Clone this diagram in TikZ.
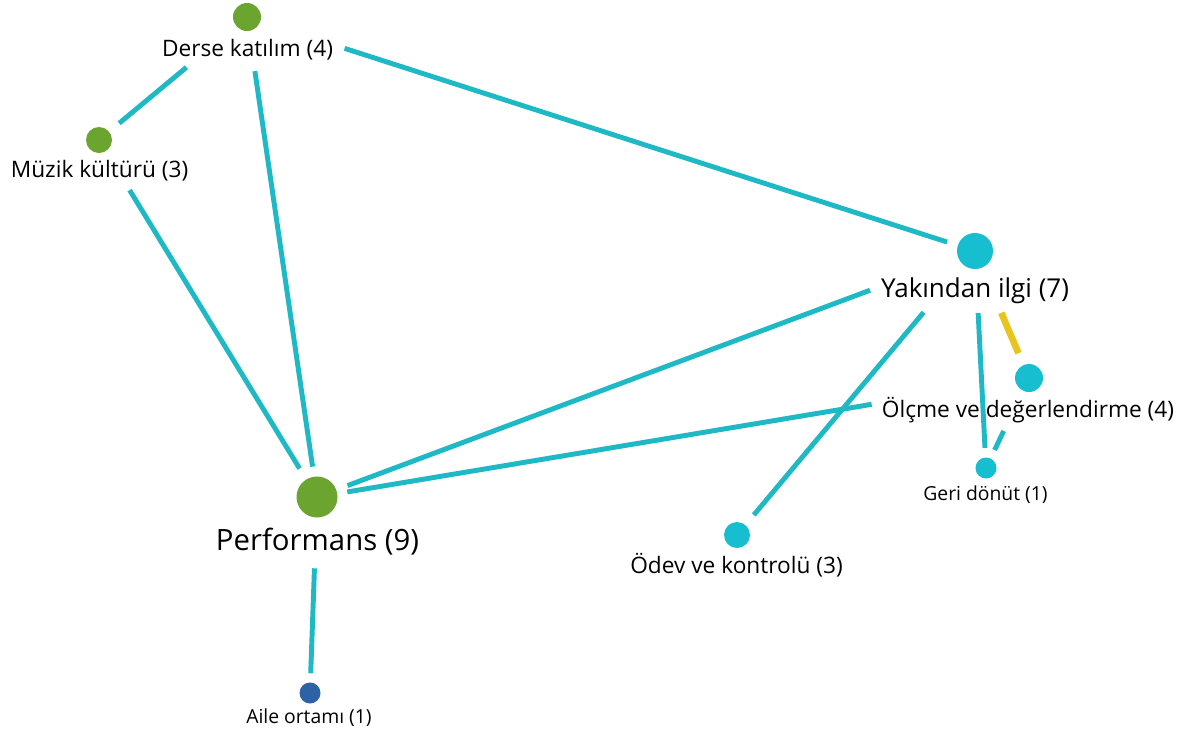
\documentclass[tikz,border=0pt]{standalone}
\usepackage{fontspec}
\setmainfont{Open Sans}
\definecolor{nodegreen}{HTML}{6BA42E}
\definecolor{nodecyan}{HTML}{17BECF}
\definecolor{nodeblue}{HTML}{2D62A6}
\definecolor{edgecyan}{HTML}{1FB9C6}
\definecolor{edgeyellow}{HTML}{E9C41F}
\pgfdeclarelayer{bg}
\pgfsetlayers{bg,main}
\tikzset{
  dot/.style={circle, inner sep=0pt, draw=none},
  gdot/.style={dot, fill=nodegreen},
  cdot/.style={dot, fill=nodecyan},
  bdot/.style={dot, fill=nodeblue},
  lbl/.style={anchor=base, inner sep=0pt, text=black},
  lmid/.style={lbl, font=\fontsize{17}{20}\selectfont},
  lbig/.style={lbl, font=\fontsize{19.5}{23}\selectfont},
  lhuge/.style={lbl, font=\fontsize{22}{26}\selectfont},
  lsmall/.style={lbl, font=\fontsize{14.5}{17}\selectfont},
  link/.style={draw=edgecyan, line width=3.7pt},
  ylink/.style={draw=edgeyellow, line width=5pt},
}
\begin{document}
\begin{tikzpicture}[x=0.75pt, y=-0.75pt]
\useasboundingbox (0,0) rectangle (1189,733);
% circles
\node[gdot, minimum size=21pt]    (nD) at (247,17)  {};
\node[gdot, minimum size=19.5pt]  (nM) at (99,140)  {};
\node[cdot, minimum size=27pt]    (nY) at (975,251) {};
\node[cdot, minimum size=21pt]    (nO) at (1029,378) {};
\node[cdot, minimum size=15.75pt] (nG) at (986,468) {};
\node[gdot, minimum size=30.75pt] (nP) at (317,497) {};
\node[cdot, minimum size=19.5pt]  (nK) at (737,535) {};
\node[bdot, minimum size=15.75pt] (nA) at (310,693) {};
% labels
\node[lmid]   (tD) at (247.5,56)  {Derse katılım (4)};
\node[lmid]   (tM) at (99.5,177)  {Müzik kültürü (3)};
\node[lbig]   (tY) at (975,297)   {Yakından ilgi (7)};
\node[lmid]   (tO) at (1028,417)  {Ölçme ve değerlendirme (4)};
\node[lsmall] (tG) at (985.5,500) {Geri dönüt (1)};
\node[lhuge]  (tP) at (317.5,550.5) {Performans (9)};
\node[lmid]   (tK) at (736.5,573) {Ödev ve kontrolü (3)};
\node[lsmall] (tA) at (309,723)   {Aile ortamı (1)};
% connectors
\begin{pgfonlayer}{bg}
\draw[link, shorten <=59pt,   shorten >=19.7pt] (nD.center) -- (nM.center);
\draw[link, shorten <=76.9pt, shorten >=22pt]   (nD.center) -- (nY.center);
\draw[link, shorten <=41pt,   shorten >=23pt]   (nD.center) -- (nP.center);
\draw[link, shorten <=44pt,   shorten >=25pt]   (nM.center) -- (nP.center);
\draw[link, shorten <=84pt,   shorten >=24.5pt] (nY.center) -- (nP.center);
\draw[link, shorten <=119.7pt,shorten >=23pt]   (nO.center) -- (nP.center);
\draw[link, shorten <=60pt,   shorten >=19.6pt] (nY.center) -- (nK.center);
\draw[link, shorten <=46.5pt, shorten >=15pt]   (nY.center) -- (nG.center);
\draw[ylink,shorten <=50.4pt, shorten >=20.2pt] (nY.center) -- (nO.center);
\draw[link, shorten <=44pt,   shorten >=15pt]   (nO.center) -- (nG.center);
\draw[link, shorten <=53.5pt, shorten >=14.8pt] (nP.center) -- (nA.center);
\end{pgfonlayer}
\end{tikzpicture}
\end{document}
